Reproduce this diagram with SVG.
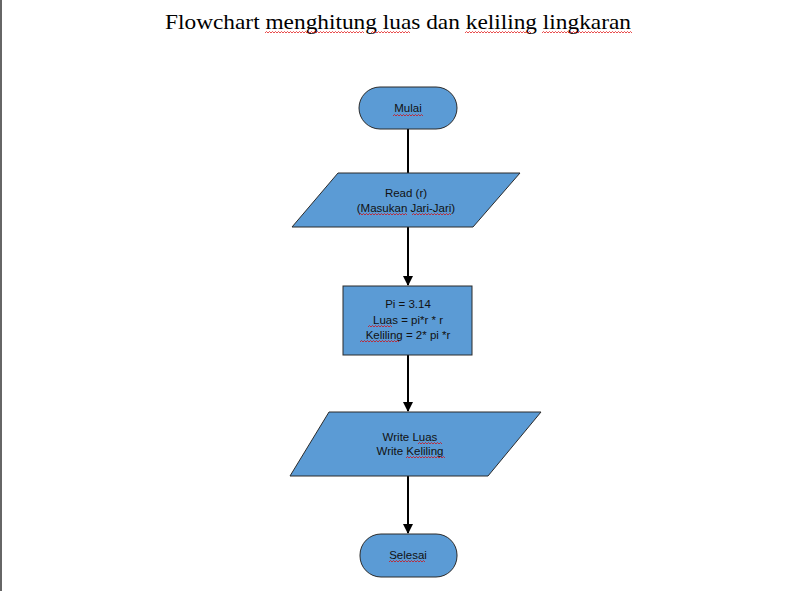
<svg xmlns="http://www.w3.org/2000/svg" width="786" height="591" viewBox="0 0 786 591">
<style>
.shape{fill:#5B9BD5;stroke:#2b2b2b;stroke-width:1}
.lbl{font-family:"Liberation Sans",Arial,sans-serif;font-size:11.5px;fill:#111;text-anchor:middle}
.title{font-family:"Liberation Serif","Times New Roman",serif;font-size:21px;fill:#000}
.conn{stroke:#000;stroke-width:2;fill:none}
.sq{stroke:#e00000;stroke-width:0.7;fill:none}
</style>
<defs>
<marker id="arr" viewBox="0 0 10 10" refX="9" refY="5" markerWidth="5" markerHeight="5" orient="auto" markerUnits="strokeWidth">
<path d="M0,0 L10,5 L0,10 z" fill="#000"/>
</marker>
</defs>
<rect x="0" y="0" width="786" height="591" fill="#fff"/>
<rect x="0" y="0" width="2" height="591" fill="#666"/>
<g id="title">
<text class="title" x="398" y="29" text-anchor="middle" textLength="466" lengthAdjust="spacingAndGlyphs">Flowchart menghitung luas dan keliling lingkaran</text>
<path class="sq" d="M265,33 l1.5,-1.5 1.5,1.5 1.5,-1.5 1.5,1.5 1.5,-1.5 1.5,1.5 1.5,-1.5 1.5,1.5 1.5,-1.5 1.5,1.5 1.5,-1.5 1.5,1.5 1.5,-1.5 1.5,1.5 1.5,-1.5 1.5,1.5 1.5,-1.5 1.5,1.5 1.5,-1.5 1.5,1.5 1.5,-1.5 1.5,1.5 1.5,-1.5 1.5,1.5 1.5,-1.5 1.5,1.5 1.5,-1.5 1.5,1.5 1.5,-1.5 1.5,1.5 1.5,-1.5 1.5,1.5 1.5,-1.5 1.5,1.5 1.5,-1.5 1.5,1.5 1.5,-1.5 1.5,1.5 1.5,-1.5 1.5,1.5 1.5,-1.5 1.5,1.5 1.5,-1.5 1.5,1.5 1.5,-1.5 1.5,1.5 1.5,-1.5 1.5,1.5 1.5,-1.5 1.5,1.5 1.5,-1.5 1.5,1.5 1.5,-1.5 1.5,1.5 1.5,-1.5 1.5,1.5 1.5,-1.5 1.5,1.5 1.5,-1.5 1.5,1.5 1.5,-1.5 1.5,1.5 1.5,-1.5 1.5,1.5 1.5,-1.5 1.5,1.5"/>
<path class="sq" d="M371,33 l1.5,-1.5 1.5,1.5 1.5,-1.5 1.5,1.5 1.5,-1.5 1.5,1.5 1.5,-1.5 1.5,1.5 1.5,-1.5 1.5,1.5 1.5,-1.5 1.5,1.5 1.5,-1.5 1.5,1.5 1.5,-1.5 1.5,1.5 1.5,-1.5 1.5,1.5 1.5,-1.5 1.5,1.5 1.5,-1.5 1.5,1.5 1.5,-1.5 1.5,1.5 1.5,-1.5 1.5,1.5"/>
<path class="sq" d="M465,33 l1.5,-1.5 1.5,1.5 1.5,-1.5 1.5,1.5 1.5,-1.5 1.5,1.5 1.5,-1.5 1.5,1.5 1.5,-1.5 1.5,1.5 1.5,-1.5 1.5,1.5 1.5,-1.5 1.5,1.5 1.5,-1.5 1.5,1.5 1.5,-1.5 1.5,1.5 1.5,-1.5 1.5,1.5 1.5,-1.5 1.5,1.5 1.5,-1.5 1.5,1.5 1.5,-1.5 1.5,1.5 1.5,-1.5 1.5,1.5 1.5,-1.5 1.5,1.5 1.5,-1.5 1.5,1.5 1.5,-1.5 1.5,1.5 1.5,-1.5 1.5,1.5 1.5,-1.5 1.5,1.5 1.5,-1.5 1.5,1.5 1.5,-1.5 1.5,1.5 1.5,-1.5 1.5,1.5"/>
<path class="sq" d="M542,33 l1.5,-1.5 1.5,1.5 1.5,-1.5 1.5,1.5 1.5,-1.5 1.5,1.5 1.5,-1.5 1.5,1.5 1.5,-1.5 1.5,1.5 1.5,-1.5 1.5,1.5 1.5,-1.5 1.5,1.5 1.5,-1.5 1.5,1.5 1.5,-1.5 1.5,1.5 1.5,-1.5 1.5,1.5 1.5,-1.5 1.5,1.5 1.5,-1.5 1.5,1.5 1.5,-1.5 1.5,1.5 1.5,-1.5 1.5,1.5 1.5,-1.5 1.5,1.5 1.5,-1.5 1.5,1.5 1.5,-1.5 1.5,1.5 1.5,-1.5 1.5,1.5 1.5,-1.5 1.5,1.5 1.5,-1.5 1.5,1.5 1.5,-1.5 1.5,1.5 1.5,-1.5 1.5,1.5 1.5,-1.5 1.5,1.5 1.5,-1.5 1.5,1.5 1.5,-1.5 1.5,1.5 1.5,-1.5 1.5,1.5 1.5,-1.5 1.5,1.5 1.5,-1.5 1.5,1.5 1.5,-1.5 1.5,1.5 1.5,-1.5 1.5,1.5"/>
</g>
<g id="connectors">
<line class="conn" x1="408" y1="129" x2="408" y2="173"/>
<line class="conn" x1="408" y1="227" x2="408" y2="285" marker-end="url(#arr)"/>
<line class="conn" x1="408" y1="355" x2="408" y2="411" marker-end="url(#arr)"/>
<line class="conn" x1="408" y1="476" x2="408" y2="533" marker-end="url(#arr)"/>
</g>
<g id="mulai">
<rect class="shape" x="359" y="87" width="98" height="42" rx="21" ry="21"/>
<text class="lbl" x="408" y="112">Mulai</text>
<path class="sq" d="M393,116 l1.5,-1.5 1.5,1.5 1.5,-1.5 1.5,1.5 1.5,-1.5 1.5,1.5 1.5,-1.5 1.5,1.5 1.5,-1.5 1.5,1.5 1.5,-1.5 1.5,1.5 1.5,-1.5 1.5,1.5 1.5,-1.5 1.5,1.5 1.5,-1.5 1.5,1.5 1.5,-1.5 1.5,1.5"/>
</g>
<g id="read">
<polygon class="shape" points="338,173 520,173 473,227 292,227"/>
<text class="lbl" x="406" y="197">Read (r)</text>
<text class="lbl" x="406" y="212">(Masukan Jari-Jari)</text>
<path class="sq" d="M359,215 l1.5,-1.5 1.5,1.5 1.5,-1.5 1.5,1.5 1.5,-1.5 1.5,1.5 1.5,-1.5 1.5,1.5 1.5,-1.5 1.5,1.5 1.5,-1.5 1.5,1.5 1.5,-1.5 1.5,1.5 1.5,-1.5 1.5,1.5 1.5,-1.5 1.5,1.5 1.5,-1.5 1.5,1.5 1.5,-1.5 1.5,1.5 1.5,-1.5 1.5,1.5 1.5,-1.5 1.5,1.5 1.5,-1.5 1.5,1.5 1.5,-1.5 1.5,1.5 1.5,-1.5 1.5,1.5"/>
<path class="sq" d="M412,215 l1.5,-1.5 1.5,1.5 1.5,-1.5 1.5,1.5 1.5,-1.5 1.5,1.5 1.5,-1.5 1.5,1.5 1.5,-1.5 1.5,1.5 1.5,-1.5 1.5,1.5 1.5,-1.5 1.5,1.5 1.5,-1.5 1.5,1.5 1.5,-1.5 1.5,1.5 1.5,-1.5 1.5,1.5 1.5,-1.5 1.5,1.5 1.5,-1.5 1.5,1.5 1.5,-1.5 1.5,1.5"/>
</g>
<g id="process">
<rect class="shape" x="343" y="286" width="129" height="69"/>
<text class="lbl" x="408" y="308">Pi = 3.14</text>
<text class="lbl" x="408" y="324">Luas = pi*r * r</text>
<text class="lbl" x="408" y="339">Keliling = 2* pi *r</text>
<path class="sq" d="M368,327 l1.5,-1.5 1.5,1.5 1.5,-1.5 1.5,1.5 1.5,-1.5 1.5,1.5 1.5,-1.5 1.5,1.5 1.5,-1.5 1.5,1.5 1.5,-1.5 1.5,1.5 1.5,-1.5 1.5,1.5 1.5,-1.5 1.5,1.5"/>
<path class="sq" d="M360,342 l1.5,-1.5 1.5,1.5 1.5,-1.5 1.5,1.5 1.5,-1.5 1.5,1.5 1.5,-1.5 1.5,1.5 1.5,-1.5 1.5,1.5 1.5,-1.5 1.5,1.5 1.5,-1.5 1.5,1.5 1.5,-1.5 1.5,1.5 1.5,-1.5 1.5,1.5 1.5,-1.5 1.5,1.5 1.5,-1.5 1.5,1.5 1.5,-1.5 1.5,1.5 1.5,-1.5 1.5,1.5"/>
</g>
<g id="write">
<polygon class="shape" points="329,412 541,412 488,476 290,476"/>
<text class="lbl" x="410" y="441">Write Luas</text>
<text class="lbl" x="410" y="455">Write Keliling</text>
<path class="sq" d="M418,444 l1.5,-1.5 1.5,1.5 1.5,-1.5 1.5,1.5 1.5,-1.5 1.5,1.5 1.5,-1.5 1.5,1.5 1.5,-1.5 1.5,1.5 1.5,-1.5 1.5,1.5 1.5,-1.5 1.5,1.5 1.5,-1.5 1.5,1.5"/>
<path class="sq" d="M406,458 l1.5,-1.5 1.5,1.5 1.5,-1.5 1.5,1.5 1.5,-1.5 1.5,1.5 1.5,-1.5 1.5,1.5 1.5,-1.5 1.5,1.5 1.5,-1.5 1.5,1.5 1.5,-1.5 1.5,1.5 1.5,-1.5 1.5,1.5 1.5,-1.5 1.5,1.5 1.5,-1.5 1.5,1.5 1.5,-1.5 1.5,1.5 1.5,-1.5 1.5,1.5 1.5,-1.5 1.5,1.5"/>
</g>
<g id="selesai">
<rect class="shape" x="360" y="534" width="97" height="43" rx="21" ry="21"/>
<text class="lbl" x="408" y="559">Selesai</text>
<path class="sq" d="M389,562 l1.5,-1.5 1.5,1.5 1.5,-1.5 1.5,1.5 1.5,-1.5 1.5,1.5 1.5,-1.5 1.5,1.5 1.5,-1.5 1.5,1.5 1.5,-1.5 1.5,1.5 1.5,-1.5 1.5,1.5 1.5,-1.5 1.5,1.5 1.5,-1.5 1.5,1.5 1.5,-1.5 1.5,1.5 1.5,-1.5 1.5,1.5 1.5,-1.5 1.5,1.5"/>
</g>
</svg>
